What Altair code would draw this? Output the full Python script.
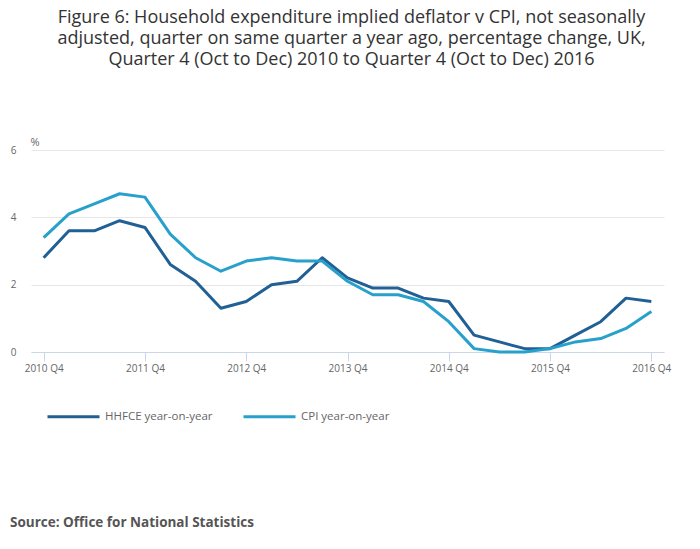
import altair as alt
import pandas as pd

quarters = ["2010 Q4", "2011 Q1", "2011 Q2", "2011 Q3", "2011 Q4",
            "2012 Q1", "2012 Q2", "2012 Q3", "2012 Q4",
            "2013 Q1", "2013 Q2", "2013 Q3", "2013 Q4",
            "2014 Q1", "2014 Q2", "2014 Q3", "2014 Q4",
            "2015 Q1", "2015 Q2", "2015 Q3", "2015 Q4",
            "2016 Q1", "2016 Q2", "2016 Q3", "2016 Q4"]
hhfce = [2.8, 3.6, 3.6, 3.9, 3.7, 2.6, 2.1, 1.3, 1.5, 2.0, 2.1, 2.8, 2.2,
         1.9, 1.9, 1.6, 1.5, 0.5, 0.3, 0.1, 0.1, 0.5, 0.9, 1.6, 1.5]
cpi = [3.4, 4.1, 4.4, 4.7, 4.6, 3.5, 2.8, 2.4, 2.7, 2.8, 2.7, 2.7, 2.1,
       1.7, 1.7, 1.5, 0.9, 0.1, 0.0, 0.0, 0.1, 0.3, 0.4, 0.7, 1.2]
series_names = ["HHFCE year-on-year", "CPI year-on-year"]
series_colors = ["#206095", "#27a0cc"]
title_lines = [
    "Figure 6: Household expenditure implied deflator v CPI, not seasonally",
    "adjusted, quarter on same quarter a year ago, percentage change, UK,",
    "Quarter 4 (Oct to Dec) 2010 to Quarter 4 (Oct to Dec) 2016",
]
source_text = "Source: Office for National Statistics"

rows = []
for i, q in enumerate(quarters):
    rows.append({"idx": i, "quarter": q, "series": series_names[0], "value": hhfce[i]})
    rows.append({"idx": i, "quarter": q, "series": series_names[1], "value": cpi[i]})
df = pd.DataFrame(rows)

label_expr = "[" + ",".join('"%s"' % q for q in quarters) + "][datum.value]"

lines = alt.Chart(df).mark_line(strokeWidth=3, strokeJoin="round").encode(
    x=alt.X("idx:Q",
            scale=alt.Scale(domain=[-0.5, len(quarters) - 0.5], nice=False, zero=False),
            axis=alt.Axis(values=list(range(0, len(quarters), 4)), labelExpr=label_expr,
                          title=None, grid=False, domainColor="#ccd6eb", tickColor="#ccd6eb",
                          tickSize=9, labelPadding=2, labelColor="#666666", labelFontSize=10,
                          labelFont="Open Sans")),
    y=alt.Y("value:Q",
            scale=alt.Scale(domain=[0, 6], nice=False),
            axis=alt.Axis(values=[0, 2, 4, 6], title="%", titleAngle=0, titleX=-1, titleY=-5,
                          titleAlign="left", titleBaseline="alphabetic", titleFontWeight="normal",
                          titleColor="#666666", titleFontSize=11, titleFont="Open Sans",
                          domain=False, ticks=False, labelPadding=15, labelColor="#666666",
                          labelFontSize=10, labelFont="Open Sans", gridColor="#e6e6e6")),
    color=alt.Color("series:N", scale=alt.Scale(domain=series_names, range=series_colors),
                    legend=alt.Legend(title=None, orient="none", legendX=15, legendY=239,
                                      direction="horizontal", symbolType="stroke",
                                      symbolSize=2704, symbolStrokeWidth=3, labelOffset=4,
                                      columnPadding=24, labelFontSize=11.5,
                                      labelColor="#666666", labelFont="Open Sans")),
)

source = alt.Chart(pd.DataFrame({"t": [source_text]})).mark_text(
    align="left", baseline="alphabetic", font="Open Sans", fontSize=13.5,
    fontWeight="bold", color="#555555"
).encode(text="t:N", x=alt.value(-21), y=alt.value(377))

chart = alt.layer(lines, source).properties(
    width=633, height=202,
    autosize=alt.AutoSizeParams(type="none"),
    padding={"left": 23, "top": 142, "right": 20, "bottom": 180},
    title=alt.TitleParams(title_lines, anchor="middle", frame="group", fontSize=18,
                          font="Open Sans", fontWeight="normal", color="#333333",
                          lineHeight=21, offset=67, dx=4),
).configure_view(stroke=None)

chart.save("out.html", embed_options={"renderer": "svg", "actions": False})
